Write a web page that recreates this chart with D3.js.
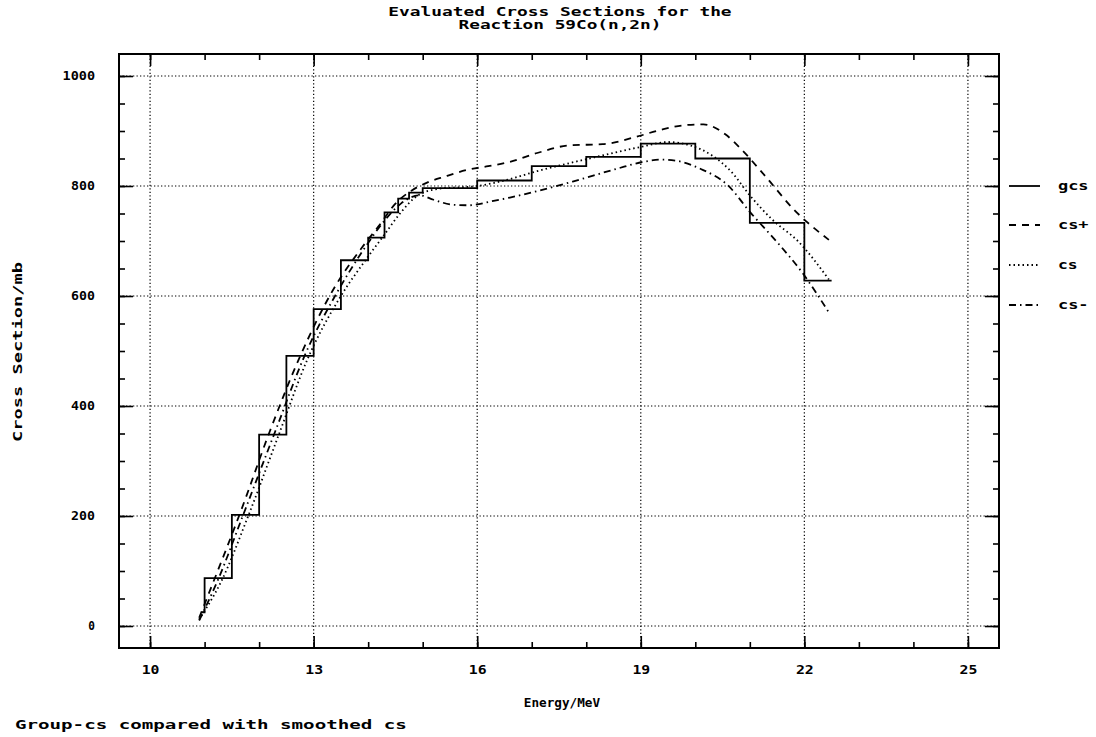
<!doctype html>
<html>
<head>
<meta charset="utf-8">
<title>Evaluated Cross Sections 59Co(n,2n)</title>
<style>
  body { margin: 0; background: #fff; }
  text { font-family: "DejaVu Sans Mono", monospace; font-weight: bold; font-size: 12px; fill: #000; }
</style>
</head>
<body>
<div id="chart"></div>
<script src="https://d3js.org/d3.v7.min.js"></script>
<script>
// group cross section (step histogram): bin edges and value in each bin
var gcsEdges  = [10.95, 11.0, 11.5, 12.0, 12.5, 13.0, 13.5, 14.0, 14.3, 14.55, 14.75, 15.0, 16.0, 17.0, 18.0, 19.0, 20.0, 21.0, 22.0, 22.5];
var gcsValues = [25, 87, 202, 348, 491, 576, 665, 706, 752, 777, 788, 796, 810, 836, 853, 877, 850, 733, 628];

// smoothed cross sections
var csPlusE = [10.9, 11.2, 11.65, 12.2, 12.75, 13.35, 13.9, 14.2, 14.5, 14.8, 15.1, 15.4, 15.85, 16.2, 16.6, 17.1, 17.7, 18.3, 18.9, 19.4, 19.85, 20.15, 20.55, 20.85, 21.3, 21.8, 22.45];
var csPlusV = [15, 90, 205, 355, 490, 610, 690, 728, 768, 792, 807, 817, 830, 836, 844, 860, 874, 876, 889, 903, 911, 912, 894, 866, 816, 758, 702];

var csE = [10.9, 11.3, 11.8, 12.35, 12.9, 13.5, 13.95, 14.3, 14.6, 14.9, 15.3, 16.0, 16.5, 17.1, 18.1, 19.0, 19.5, 19.9, 20.3, 20.65, 21.0, 21.4, 21.9, 22.45];
var csV = [12, 80, 200, 345, 488, 600, 665, 712, 752, 782, 795, 800, 810, 827, 851, 871, 880, 874, 856, 827, 783, 740, 698, 630];

var csMinusE = [10.9, 11.25, 11.7, 12.3, 12.85, 13.45, 13.9, 14.3, 14.6, 14.95, 15.2, 15.55, 15.85, 16.3, 16.6, 17.15, 17.75, 18.55, 19.05, 19.4, 19.65, 20.1, 20.6, 21.0, 21.5, 21.95, 22.45];
var csMinusV = [10, 85, 200, 355, 495, 610, 682, 737, 768, 783, 775, 766, 765, 773, 779, 792, 808, 831, 844, 848, 846, 831, 801, 753, 698, 644, 570];

// ticks
var xMajor = [10, 13, 16, 19, 22, 25];
var xMinor = d3.range(10, 26, 1);
var yMajor = [0, 200, 400, 600, 800, 1000];
var yMinor = d3.range(0, 1001, 50);

var legendNames = ["gcs", "cs+", "cs", "cs-"];
var legendDash  = [null, "7,6", "1.5,3", "7,4,1.5,4"];

var W = 1096, H = 737;
var svg = d3.select("#chart").append("svg")
    .attr("width", W).attr("height", H);
svg.append("rect").attr("width", W).attr("height", H).attr("fill", "#fff");

var x = d3.scaleLinear().domain([9.43, 25.57]).range([119, 999]);
var y = d3.scaleLinear().domain([-40, 1040]).range([648, 54]);

// plotter text is wide: stretch glyphs to a fixed advance per character
function fit(sel, adv) {
    adv = adv || 11.6;
    sel.attr("textLength", function() {
        var n = this.textContent.length;
        return n * adv - adv * 0.22;
    }).attr("lengthAdjust", "spacingAndGlyphs");
}

// grid
var grid = svg.append("g").attr("stroke", "#000").attr("stroke-width", 1.2)
    .attr("stroke-dasharray", "1.3,2.2");
grid.selectAll(".gx").data(xMajor).enter().append("line")
    .attr("x1", d => x(d)).attr("x2", d => x(d))
    .attr("y1", y.range()[0]).attr("y2", y.range()[1]);
grid.selectAll(".gy").data(yMajor).enter().append("line")
    .attr("y1", d => y(d)).attr("y2", d => y(d))
    .attr("x1", x.range()[0]).attr("x2", x.range()[1]);

// axes with inward ticks on all four sides
function styleAxis(g) {
    g.select(".domain").remove();
    g.selectAll("line").attr("stroke", "#000").attr("stroke-width", 1.6);
}
svg.append("g").attr("transform", "translate(0," + y(-40) + ")")
    .call(d3.axisBottom(x).tickValues(xMinor).tickSize(-6).tickFormat(""))
    .call(styleAxis);
var xb = svg.append("g").attr("transform", "translate(0," + y(-40) + ")")
    .call(d3.axisBottom(x).tickValues(xMajor).tickSize(-12).tickPadding(17).tickFormat(d3.format("d")))
    .call(styleAxis);
xb.selectAll("text").attr("font-size", null).attr("font-family", null).call(fit, 10);

svg.append("g").attr("transform", "translate(0," + y(1040) + ")")
    .call(d3.axisTop(x).tickValues(xMinor).tickSize(-6).tickFormat(""))
    .call(styleAxis);
svg.append("g").attr("transform", "translate(0," + y(1040) + ")")
    .call(d3.axisTop(x).tickValues(xMajor).tickSize(-12).tickFormat(""))
    .call(styleAxis);

svg.append("g").attr("transform", "translate(" + x(9.43) + ",0)")
    .call(d3.axisLeft(y).tickValues(yMinor).tickSize(-6).tickFormat(""))
    .call(styleAxis);
var yl = svg.append("g").attr("transform", "translate(" + x(9.43) + ",0)")
    .call(d3.axisLeft(y).tickValues(yMajor).tickSize(-14).tickPadding(24).tickFormat(d3.format("d")))
    .call(styleAxis);
yl.selectAll("text").attr("font-size", null).attr("font-family", null).call(fit, 8.6);

svg.append("g").attr("transform", "translate(" + x(25.57) + ",0)")
    .call(d3.axisRight(y).tickValues(yMinor).tickSize(-6).tickFormat(""))
    .call(styleAxis);
svg.append("g").attr("transform", "translate(" + x(25.57) + ",0)")
    .call(d3.axisRight(y).tickValues(yMajor).tickSize(-14).tickFormat(""))
    .call(styleAxis);

// frame
svg.append("rect")
    .attr("x", x(9.43)).attr("y", y(1040))
    .attr("width", x(25.57) - x(9.43)).attr("height", y(-40) - y(1040))
    .attr("fill", "none").attr("stroke", "#000").attr("stroke-width", 2);

// curves
var smooth = d3.line().x(d => x(d[0])).y(d => y(d[1])).curve(d3.curveMonotoneX);
var series = [
    { e: csPlusE, v: csPlusV, dash: legendDash[1] },
    { e: csE, v: csV, dash: legendDash[2] },
    { e: csMinusE, v: csMinusV, dash: legendDash[3] }
];
series.forEach(function(s) {
    svg.append("path")
        .datum(d3.zip(s.e, s.v))
        .attr("fill", "none").attr("stroke", "#000").attr("stroke-width", 1.8)
        .attr("stroke-dasharray", s.dash)
        .attr("d", smooth);
});

// group cross section steps
var stepPts = gcsValues.map((v, i) => [gcsEdges[i], v]);
stepPts.push([gcsEdges[gcsEdges.length - 1], gcsValues[gcsValues.length - 1]]);
var stepLine = d3.line().x(d => x(d[0])).y(d => y(d[1])).curve(d3.curveStepAfter);
svg.append("path").datum(stepPts)
    .attr("fill", "none").attr("stroke", "#000").attr("stroke-width", 1.8)
    .attr("d", stepLine);

// legend
var legendY = [186, 225, 265, 305];
var lg = svg.append("g");
legendNames.forEach(function(name, i) {
    lg.append("line")
        .attr("x1", 1009).attr("x2", 1040)
        .attr("y1", legendY[i]).attr("y2", legendY[i])
        .attr("stroke", "#000").attr("stroke-width", 1.8)
        .attr("stroke-dasharray", legendDash[i]);
    lg.append("text").attr("x", 1058).attr("y", legendY[i] + 4).text(name).call(fit, 11);
});

// titles and labels
svg.append("text").attr("x", 560).attr("y", 16).attr("text-anchor", "middle")
    .text("Evaluated Cross Sections for the").call(fit, 10.8);
svg.append("text").attr("x", 560).attr("y", 29).attr("text-anchor", "middle")
    .text("Reaction 59Co(n,2n)").call(fit, 10.8);
svg.append("text").attr("x", 562).attr("y", 707).attr("text-anchor", "middle")
    .text("Energy/MeV").call(fit, 7.8);
svg.append("text").attr("transform", "translate(22,352) rotate(-90)")
    .attr("text-anchor", "middle").text("Cross Section/mb").call(fit, 11.4);
svg.append("text").attr("x", 15).attr("y", 729)
    .text("Group-cs compared with smoothed cs").call(fit, 11.6);
</script>
</body>
</html>
